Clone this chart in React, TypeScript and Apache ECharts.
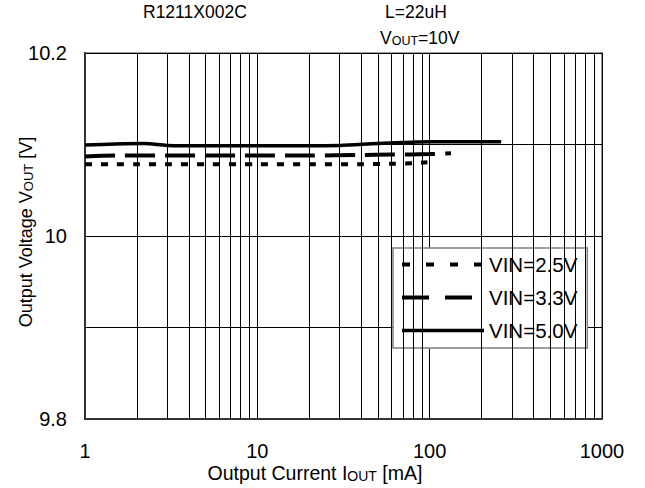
import React, { useEffect, useRef } from "react";
import * as echarts from "echarts";

const xTickLabels = ["1", "10", "100", "1000"];
const minorGrid = [2, 3, 4, 5, 6, 7, 8, 9, 20, 30, 40, 50, 60, 70, 80, 90, 200, 300, 400, 500, 600, 700, 800, 900];

const vin25: [number, number][] = [
  [1, 10.0785], [1.5, 10.0785], [2, 10.0785], [3, 10.0785], [5, 10.0785], [10, 10.0785],
  [20, 10.0785], [40, 10.0785], [60, 10.079], [80, 10.0795], [97, 10.0805],
];
const vin33: [number, number][] = [
  [1, 10.087], [1.5, 10.088], [2, 10.088], [3, 10.088], [5, 10.088], [10, 10.088],
  [20, 10.088], [40, 10.0885], [60, 10.089], [100, 10.0895], [133, 10.0905],
];
const vin50: [number, number][] = [
  [1, 10.0995], [1.5, 10.1005], [2.2, 10.101], [3, 10.099], [5, 10.0985], [10, 10.0985],
  [20, 10.0985], [30, 10.099], [50, 10.101], [80, 10.1025], [100, 10.103], [260, 10.103],
];

const FONT = "'Liberation Sans', Arial, sans-serif";

const dotType = [7, 9];
const dashType = [30, 10];

export default function App() {
  const ref = useRef<HTMLDivElement>(null);
  useEffect(() => {
    if (!ref.current) return;
    const chart = echarts.init(ref.current, null, { renderer: "svg" });
    const seriesBase = {
      type: "line",
      symbol: "none",
      smooth: 0.3,
      silent: true,
      color: "#000",
    };
    const richSub = (main: number, sub: number) => ({
      a: { fontSize: main, fontFamily: FONT, fill: "#000", verticalAlign: "bottom", lineHeight: main + 3 },
      b: { fontSize: sub, fontFamily: FONT, fill: "#000", verticalAlign: "bottom", lineHeight: main + 3 },
    });
    chart.setOption({
      animation: false,
      backgroundColor: "#fff",
      textStyle: { fontFamily: FONT },
      grid: {
        left: 85, top: 53, width: 517, height: 366,
        show: true, borderColor: "#9a9a9a", borderWidth: 2, backgroundColor: "transparent",
      },
      xAxis: {
        type: "log", logBase: 10, min: 1, max: 1000,
        axisLine: { show: true, lineStyle: { color: "#333", width: 2 } },
        axisTick: { show: false },
        splitLine: { show: true, lineStyle: { color: "#000", width: 1 } },
        axisLabel: {
          color: "#000", fontSize: 20, fontFamily: FONT, margin: 22,
          formatter: (v: number) => {
            const i = Math.round(Math.log10(v));
            return xTickLabels[i] ?? "";
          },
        },
      },
      yAxis: {
        type: "value", min: 9.8, max: 10.2, interval: 0.1,
        axisLine: { show: true, lineStyle: { color: "#333", width: 2 } },
        axisTick: { show: false },
        splitLine: { show: true, lineStyle: { color: "#000", width: 1 } },
        axisLabel: {
          color: "#000", fontSize: 20, fontFamily: FONT, margin: 18,
          formatter: (v: number) => {
            const k = Math.round(v * 10);
            if (k % 2 !== 0) return "";
            return String(Math.round(v * 10) / 10);
          },
        },
      },
      legend: {
        orient: "vertical",
        left: 393, top: 248,
        padding: [6, 10, 7, 7],
        itemWidth: 82, itemHeight: 20, itemGap: 12,
        backgroundColor: "#fff",
        borderColor: "#808080", borderWidth: 1.5, borderRadius: 0,
        itemStyle: { opacity: 0, borderWidth: 0 },
        textStyle: { color: "#000", fontSize: 20.5, fontFamily: FONT, lineHeight: 20 },
        data: [
          { name: "VIN=2.5V", itemStyle: { opacity: 0 }, lineStyle: { color: "#000", width: 4, type: [8, 16] } },
          { name: "VIN=3.3V", itemStyle: { opacity: 0 }, lineStyle: { color: "#000", width: 4, type: [27, 16] } },
          { name: "VIN=5.0V", itemStyle: { opacity: 0 }, lineStyle: { color: "#000", width: 3.5, type: "solid" } },
        ],
      },
      graphic: [
        { type: "text", left: 143, top: 3, style: { text: "R1211X002C", fontSize: 17.5, fontFamily: FONT, fill: "#000" } },
        { type: "text", left: 385, top: 3, style: { text: "L=22uH", fontSize: 17.5, fontFamily: FONT, fill: "#000" } },
        {
          type: "text", left: 380, top: 29,
          style: { text: "{a|V}{b|OUT}{a|=10V}", rich: richSub(17.5, 12.5) },
        },
        {
          type: "text", x: 24, y: 232, rotation: Math.PI / 2,
          style: {
            text: "{a|Output Voltage V}{b|OUT}{a| [V]}",
            align: "center", verticalAlign: "middle",
            rich: richSub(18, 13),
          },
        },
        {
          type: "text", x: 315, y: 472,
          style: {
            text: "{a|Output Current I}{b|OUT}{a| [mA]}",
            align: "center", verticalAlign: "middle",
            rich: richSub(19.5, 14),
          },
        },
      ],
      series: [
        {
          type: "line", name: "minor", data: [], silent: true,
          markLine: {
            silent: true, symbol: "none", label: { show: false },
            lineStyle: { color: "#000", width: 1, type: "solid" },
            data: minorGrid.map((v) => ({ xAxis: v })),
          },
        },
        { ...seriesBase, name: "VIN=2.5V", data: vin25, lineStyle: { color: "#000", width: 4, type: dotType } },
        { ...seriesBase, name: "VIN=3.3V", data: vin33, lineStyle: { color: "#000", width: 4, type: dashType } },
        { ...seriesBase, name: "VIN=5.0V", data: vin50, lineStyle: { color: "#000", width: 3.5, type: "solid" } },
      ],
    });
    return () => chart.dispose();
  }, []);
  return <div ref={ref} style={{ position: "fixed", left: 0, top: 0, width: 645, height: 488 }} />;
}
